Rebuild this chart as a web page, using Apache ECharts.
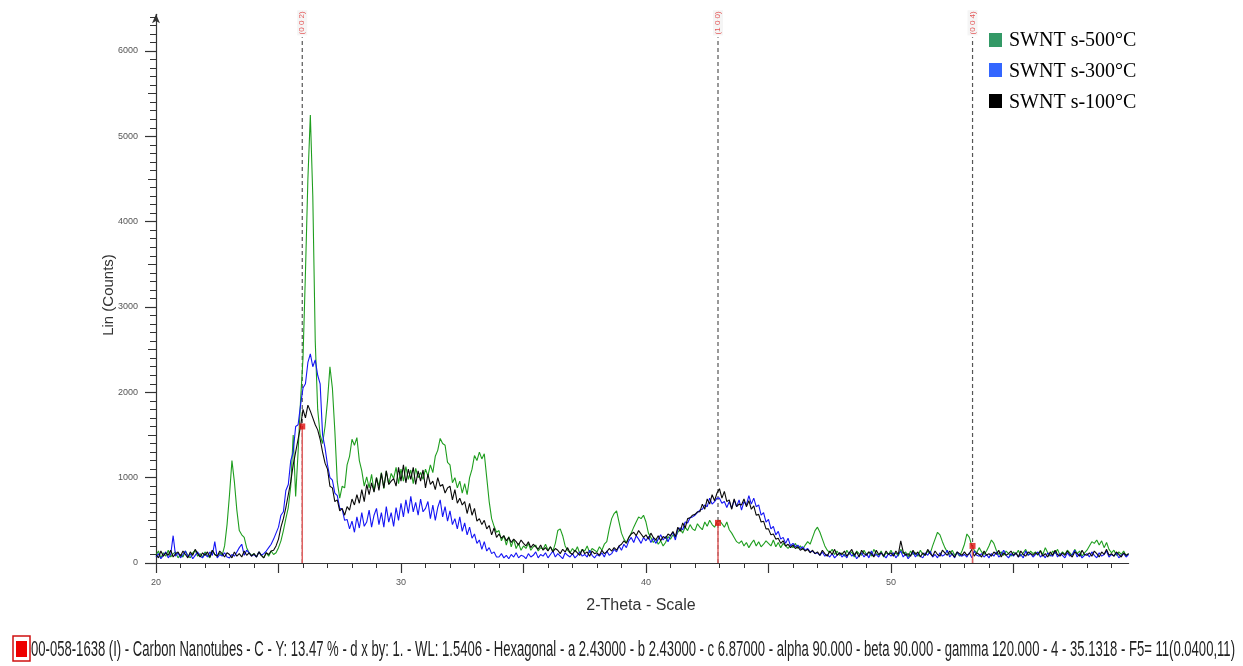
<!DOCTYPE html>
<html>
<head>
<meta charset="utf-8">
<script src="https://cdn.jsdelivr.net/npm/echarts@6/dist/echarts.min.js"></script>
<style>
html,body{margin:0;padding:0;background:#fff;}
#chart{width:1243px;height:666px;}
</style>
</head>
<body>
<div id="chart"></div>
<script>
// ---- DATA ----
const twoThetaStart = 20.0;   // first measured 2-theta (deg)
const twoThetaStep = 0.1;     // measurement step (deg)

const seriesNames = ['SWNT s-500°C', 'SWNT s-300°C', 'SWNT s-100°C'];

const counts500 = [
 90,140,60,120,80,150,70,110,130,60,
 100,70,140,90,60,120,150,80,110,70,
 130,90,60,150,100,80,120,90,200,450,
 800,1200,950,620,380,330,300,180,120,90,
 110,70,130,90,60,120,80,140,100,120,
 180,260,380,520,650,900,1500,780,1300,1900,
 2400,3400,4500,5250,4300,2600,1800,1500,1400,1600,
 1900,2300,2050,1550,950,760,900,880,1150,1250,
 1450,1380,1470,1200,1080,900,1010,880,1040,840,
 1000,900,1060,870,1080,920,1050,990,1120,930,
 1100,960,1130,980,1090,930,1110,1000,1060,980,
 1100,1020,1150,1060,1250,1320,1460,1400,1380,1180,
 1150,940,1000,880,960,820,930,800,1000,1100,
 1260,1200,1300,1220,1280,1000,720,520,430,360,
 380,260,320,210,310,190,280,170,230,150,
 200,170,230,150,190,210,140,180,160,220,
 150,190,140,230,380,400,320,200,150,120,
 170,130,190,110,160,140,200,120,170,150,
 130,190,150,220,250,400,520,580,610,480,
 350,280,240,300,350,420,480,540,520,560,
 480,350,300,240,280,220,260,200,240,310,
 280,330,300,360,400,350,420,380,450,400,
 380,460,420,390,480,430,500,450,420,480,
 500,460,420,480,390,350,300,250,230,260,
 200,240,180,230,270,200,250,190,220,260,
 230,200,270,190,240,180,230,200,170,210,
 180,230,170,200,160,210,250,220,300,380,
 420,360,280,200,150,120,160,100,140,90,
 120,80,150,100,130,70,140,110,90,150,
 100,130,80,160,110,90,140,70,120,100,
 150,90,120,80,160,110,130,70,140,100,
 120,80,150,100,90,140,110,200,280,360,
 330,250,180,130,100,150,90,120,80,140,
 220,340,300,200,150,120,180,130,100,140,
 200,270,230,150,100,130,90,140,110,80,
 130,100,150,80,120,160,90,140,110,130,
 90,150,100,180,120,80,140,110,160,90,
 130,100,150,120,90,160,110,140,80,120,
 150,200,250,230,270,210,260,180,240,160,
 120,150,90,130,100,140,80,110
];

const counts300 = [
 70,110,50,90,130,60,100,320,80,120,
 60,100,140,70,110,50,90,130,80,60,
 110,70,130,90,250,60,100,80,120,70,
 60,100,80,130,180,220,90,150,120,80,
 100,70,130,90,110,140,180,220,280,350,
 420,560,600,850,920,1200,1300,1600,1620,1850,
 2050,2100,2350,2450,2300,2380,2200,2100,1500,1350,
 1150,1000,970,820,790,640,630,500,510,400,
 490,360,540,410,590,430,480,620,420,560,
 640,450,590,420,660,480,590,430,650,500,
 700,540,740,580,780,600,710,560,750,600,
 640,720,520,680,500,650,740,540,660,490,
 610,450,520,400,540,370,470,330,420,290,
 340,230,270,160,250,140,180,110,130,70,
 70,110,60,90,50,100,70,120,60,90,
 80,50,110,70,90,130,60,100,80,120,
 60,100,140,70,110,80,50,120,90,70,
 110,60,90,130,80,100,70,150,90,60,
 100,80,120,70,140,90,110,160,130,200,
 150,220,180,260,300,240,320,280,230,300,
 260,310,240,290,230,280,330,270,310,250,
 320,360,270,400,410,390,480,470,530,540,
 560,590,620,630,680,660,760,690,720,760,
 760,700,720,650,720,640,740,660,740,620,
 720,680,790,690,760,660,680,560,590,480,
 510,400,430,330,370,280,300,230,290,200,
 230,190,210,170,190,150,170,130,140,110,
 120,90,130,80,100,70,110,60,90,120,
 70,100,60,130,80,110,50,90,120,70,
 110,60,140,80,100,70,120,90,60,110,
 80,120,60,100,140,70,110,50,90,130,
 70,110,80,60,120,90,140,70,100,60,
 120,80,100,150,70,110,60,130,90,80,
 100,70,120,60,140,90,80,110,70,100,
 60,110,80,130,70,100,150,90,60,110,
 80,120,70,100,60,140,90,110,70,100,
 130,70,100,60,120,90,80,140,70,110,
 90,60,120,80,100,150,70,110,60,90,
 110,70,130,90,60,120,80,100,140,70,
 100,80,120,60,90,110,70,100
];

const counts100 = [
 100,60,140,80,120,90,150,70,110,130,
 80,140,100,60,130,90,160,110,70,120,
 90,130,70,150,100,80,140,110,70,120,
 100,60,130,80,110,70,140,90,120,80,
 110,70,130,90,60,120,100,140,150,200,
 280,420,520,650,800,950,1150,1300,1450,1600,
 1800,1700,1850,1780,1700,1620,1560,1450,1300,1170,
 1100,900,880,720,740,610,640,560,660,620,
 750,680,800,700,860,720,920,800,940,830,
 1000,850,1050,880,1080,920,960,990,900,1120,
 960,1150,940,1100,980,1120,920,1080,960,1090,
 880,1040,920,960,860,1000,900,920,820,880,
 900,740,860,700,760,680,720,580,700,560,
 640,490,520,450,500,400,440,330,410,300,
 340,290,320,260,300,240,280,250,210,270,
 230,200,250,180,220,190,160,210,150,180,
 140,190,130,170,150,110,160,130,180,120,
 100,150,120,90,160,110,130,80,140,110,
 120,90,150,110,130,170,140,180,150,200,
 220,260,230,300,340,360,320,380,340,300,
 330,280,350,300,270,320,260,310,290,340,
 320,370,310,420,370,470,410,520,530,560,
 570,600,600,690,630,750,690,800,730,820,
 870,760,840,720,740,630,750,660,690,680,
 750,660,730,630,670,560,570,480,490,400,
 400,330,340,280,290,230,260,200,220,180,
 210,170,190,150,170,140,160,120,150,110,
 130,90,150,110,80,140,100,160,90,120,
 100,140,80,120,160,90,130,70,150,110,
 90,130,110,70,150,100,120,80,140,100,
 120,80,140,100,260,130,90,110,80,150,
 100,130,70,120,90,160,110,80,140,100,
 80,150,120,90,140,100,70,130,110,90,
 130,90,110,160,80,120,100,70,140,90,
 110,80,130,100,150,70,120,90,110,140,
 90,120,70,140,100,80,130,110,90,120,
 100,140,80,110,70,130,90,150,100,80,
 120,90,140,100,70,130,110,80,150,100,
 90,120,80,140,110,70,130,100,160,90,
 110,80,130,100,70,120,90,110
];

// reference pattern 00-058-1638 (Carbon Nanotubes)
const refPositions = [25.97, 42.94, 53.33];
const refHeights = [1600, 470, 200];
const refLabels = ['(0 0 2)', '(1 0 0)', '(0 0 4)'];
const refLineTop = 6160;
const refLabelY = 6330;

// axes
const xMin = 20, xMax = 59.7;
const yMin = 0, yMax = 6430;
const xLabelValues = [20, 30, 40, 50];
const yLabelValues = [0, 1000, 2000, 3000, 4000, 5000, 6000];

const xTitle = '2-Theta - Scale';
const yTitle = 'Lin (Counts)';
const footerText = '00-058-1638 (I) - Carbon Nanotubes - C - Y: 13.47 % - d x by: 1. - WL: 1.5406 - Hexagonal - a 2.43000 - b 2.43000 - c 6.87000 - alpha 90.000 - beta 90.000 - gamma 120.000 - 4 - 35.1318 - F5= 11(0.0400,11)';

// ---- BUILD ----
function toPairs(arr) {
  return arr.map((v, i) => [+(twoThetaStart + i * twoThetaStep).toFixed(1), v]);
}
function range(a, b, s) { const r = []; for (let v = a; v <= b + 1e-9; v += s) r.push(v); return r; }

const lineColors = ['#1f9e1f', '#1515f5', '#0a0a0a'];
const legendColors = ['#339966', '#3366ff', '#000000'];
const allCounts = [counts500, counts300, counts100];

const series = [];
allCounts.forEach((arr, k) => {
  series.push({
    name: seriesNames[k], type: 'line', data: toPairs(arr),
    showSymbol: false, symbol: 'none',
    lineStyle: { width: 1.1, color: lineColors[k] },
    z: 3 + k, silent: true
  });
});
refPositions.forEach((p, k) => {
  series.push({
    type: 'line', data: [[p, 0], [p, refLineTop]], symbol: 'none',
    lineStyle: { width: 1.2, color: '#555', type: [4, 3] }, z: 2, silent: true
  });
  series.push({
    type: 'line', data: [[p, 0], [p, refHeights[k]]], symbol: 'none',
    lineStyle: { width: 1.5, color: '#e06060' }, z: 7, silent: true
  });
});
series.push({
  type: 'scatter', symbol: 'rect', symbolSize: 6,
  itemStyle: { color: '#e01010' }, z: 8, silent: true,
  data: refPositions.map((p, k) => [p, refHeights[k]])
});
series.push({
  type: 'scatter', symbolSize: 0, silent: true, z: 8,
  data: refPositions.map((p, k) => ({ value: [p, refLabelY], name: refLabels[k] })),
  label: {
    show: true, position: 'inside', rotate: 90, formatter: '{b}',
    color: '#e03030', fontSize: 8, fontFamily: 'Liberation Sans',
    backgroundColor: '#f3f3f3', padding: [1, 1]
  }
});

const axisColor = '#333';
const gridLeft = 156, gridTop = 14.3, gridW = 972.6, gridH = 548.7;

const xAxes = [
  {
    type: 'value', min: xMin, max: xMax, position: 'bottom',
    axisLine: { show: true, lineStyle: { color: axisColor, width: 1.2 } },
    axisTick: { show: true, length: 5, customValues: range(20, 59, 1), lineStyle: { color: axisColor } },
    axisLabel: { show: true, customValues: xLabelValues, formatter: v => String(v), fontSize: 9, color: '#555', margin: 15, fontFamily: 'Liberation Sans' },
    splitLine: { show: false }
  },
  {
    type: 'value', min: xMin, max: xMax, position: 'bottom', offset: 0,
    axisLine: { show: false },
    axisTick: { show: true, length: 10, customValues: range(20, 55, 5), lineStyle: { color: axisColor, width: 1.2 } },
    axisLabel: { show: false }, splitLine: { show: false }
  }
];
const yAxes = [
  {
    type: 'value', min: yMin, max: yMax, position: 'left',
    axisLine: { show: true, symbol: ['none', 'arrow'], symbolSize: [6, 9], lineStyle: { color: axisColor, width: 1.2 } },
    axisTick: { show: true, length: 6, customValues: range(0, 6400, 100), lineStyle: { color: axisColor } },
    axisLabel: { show: true, customValues: yLabelValues, formatter: v => String(v), fontSize: 9, color: '#555', margin: 18, fontFamily: 'Liberation Sans' },
    splitLine: { show: false }
  },
  {
    type: 'value', min: yMin, max: yMax, position: 'left', offset: 0,
    axisLine: { show: false },
    axisTick: { show: true, length: 8, customValues: range(500, 6000, 1000), lineStyle: { color: axisColor } },
    axisLabel: { show: false }, splitLine: { show: false }
  },
  {
    type: 'value', min: yMin, max: yMax, position: 'left', offset: 0,
    axisLine: { show: false },
    axisTick: { show: true, length: 11, customValues: yLabelValues, lineStyle: { color: axisColor, width: 1.2 } },
    axisLabel: { show: false }, splitLine: { show: false }
  }
];

// footer text width fitting
const footerFont = '22px "Liberation Sans"';
const mctx = document.createElement('canvas').getContext('2d');
mctx.font = footerFont;
const footerW = mctx.measureText(footerText).width;
const footerScale = 1204 / footerW;

const graphic = [];
// legend
seriesNames.forEach((n, k) => {
  const cy = [40, 70, 101][k];
  graphic.push({ type: 'rect', left: 989, top: cy - 7, shape: { width: 13, height: 14 }, style: { fill: legendColors[k] }, z: 20 });
  graphic.push({ type: 'text', x: 1009, y: [41, 72, 103][k], style: { text: n, font: '20px "Liberation Serif"', fill: '#000', verticalAlign: 'middle', textAlign: 'left' }, z: 20 });
});
// axis titles
graphic.push({ type: 'text', x: 109, y: 295, rotation: Math.PI / 2, style: { text: yTitle, font: '15px "Liberation Sans"', fill: '#333', textAlign: 'center', verticalAlign: 'middle' } });
graphic.push({ type: 'text', x: 641, y: 606, style: { text: xTitle, font: '16px "Liberation Sans"', fill: '#333', textAlign: 'center', verticalAlign: 'middle' } });
// footer
graphic.push({ type: 'rect', shape: { x: 13, y: 636, width: 17, height: 25 }, style: { fill: '#fff', stroke: '#d01010', lineWidth: 1.5 } });
graphic.push({ type: 'rect', shape: { x: 16, y: 641, width: 11, height: 16 }, style: { fill: '#ee0000' } });
graphic.push({ type: 'text', x: 31, y: 650, scaleX: footerScale, style: { text: footerText, font: footerFont, fill: '#222', verticalAlign: 'middle', textAlign: 'left' } });

const chart = echarts.init(document.getElementById('chart'), null, { renderer: 'canvas' });
chart.setOption({
  animation: false,
  backgroundColor: '#fff',
  grid: { left: gridLeft, top: gridTop, width: gridW, height: gridH, containLabel: false },
  xAxis: xAxes,
  yAxis: yAxes,
  series: series,
  graphic: graphic
});
</script>
</body>
</html>
